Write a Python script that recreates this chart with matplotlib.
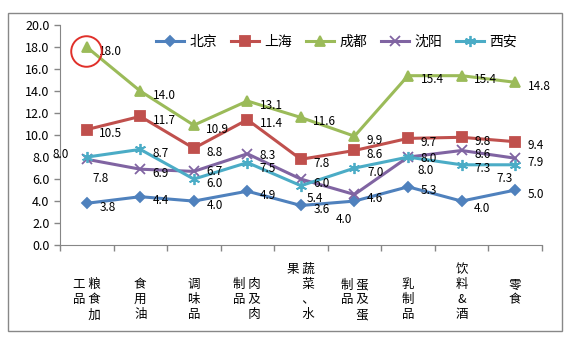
import matplotlib
matplotlib.use("Agg")
import matplotlib.pyplot as plt
from matplotlib.patches import Rectangle
from matplotlib.transforms import offset_copy

plt.rcParams['font.family'] = ['Noto Sans CJK SC', 'DejaVu Sans']

# 数据
categories = ["粮食加工品", "食用油", "调味品", "肉及肉制品", "蔬菜、水果",
              "蛋及蛋制品", "乳制品", "饮料&酒", "零食"]
rows_per_col = [3, 3, 3, 3, 4, 3, 3, 4, 3]

beijing = [3.8, 4.4, 4.0, 4.9, 3.6, 4.0, 5.3, 4.0, 5.0]
shanghai = [10.5, 11.7, 8.8, 11.4, 7.8, 8.6, 9.7, 9.8, 9.4]
chengdu = [18.0, 14.0, 10.9, 13.1, 11.6, 9.9, 15.4, 15.4, 14.8]
shenyang = [7.8, 6.9, 6.7, 8.3, 6.0, 4.6, 8.0, 8.6, 7.9]
xian = [8.0, 8.7, 6.0, 7.5, 5.4, 7.0, 8.0, 7.3, 7.3]

series = [
    ("北京", beijing, "#4F81BD", "D", 5.5),
    ("上海", shanghai, "#C0504D", "s", 7),
    ("成都", chengdu, "#9BBB59", "^", 7.5),
    ("沈阳", shenyang, "#8064A2", "x", 7),
    ("西安", xian, "#4BACC6", (6, 2, 0), 8),
]

# 数据标签偏移 (points)，默认在点右侧
default_off = (9, -3)
label_off = {
    ("西安", 0): (-13, 2),
    ("沈阳", 0): (4, -14),
    ("沈阳", 2): (9, 0),
    ("沈阳", 3): (9, -1),
    ("西安", 3): (9, -4),
    ("西安", 4): (4, -9),
    ("北京", 5): (-2, -13),
    ("沈阳", 6): (9, -1),
    ("西安", 6): (7, -10),
    ("北京", 7): (9, -5),
    ("西安", 8): (-2, -10),
}


def stack(label, n):
    cols = [label[i:i + n] for i in range(0, len(label), n)]
    lines = []
    for r in range(n):
        if len(cols) == 1:
            lines.append(cols[0][r] if r < len(cols[0]) else "")
        else:
            left = cols[1][r] if r < len(cols[1]) else "\u3000"
            lines.append(left + " " + cols[0][r])
    return "\n".join(l for l in lines if l)


fig = plt.figure(figsize=(5.71, 3.39), dpi=100)
ax = fig.add_axes([0.105, 0.277, 0.844, 0.649])

x = list(range(len(categories)))
for name, vals, color, marker, ms in series:
    ax.plot(x, vals, color=color, lw=2.2, marker=marker, ms=ms,
            mfc=color, mec=color, mew=1.3, label=name, zorder=3)
    for i, v in enumerate(vals):
        dx, dy = label_off.get((name, i), default_off)
        ax.annotate(f"{v:.1f}", (i, v), xytext=(dx, dy), textcoords="offset points",
                    ha="left" if dx >= 0 else "right", va="center", fontsize=8.5,
                    zorder=4)

# 红圈
trans = offset_copy(ax.transData, fig=fig, x=-0.5, y=-2.5, units="points")
ax.plot([0], [chengdu[0]], marker="o", ms=22, mfc="none", mec="#E0302A",
        mew=1.4, transform=trans, zorder=5, clip_on=False)

ax.set_xlim(-0.5, len(categories) - 0.5)
ax.set_ylim(0, 20)
ax.set_yticks(range(0, 21, 2))
ax.set_yticklabels([f"{t:.1f}" for t in range(0, 21, 2)], fontsize=9)
ax.set_xticks([i - 0.5 for i in range(len(categories) + 1)])
ax.set_xticklabels([])
ax.tick_params(axis="both", direction="out", length=4, color="#868686", width=1)
for s in ["top", "right"]:
    ax.spines[s].set_visible(False)
for s in ["left", "bottom"]:
    ax.spines[s].set_color("#868686")

for i, (lab, n) in enumerate(zip(categories, rows_per_col)):
    shift = (max(n, 3) - 3) * 11
    ax.annotate(stack(lab, n), (i, 0), xycoords=("data", "axes fraction"),
                xytext=(0, -24 + shift), textcoords="offset points",
                ha="center", va="top", fontsize=9, linespacing=1.2)

fig.legend(loc="center", bbox_to_anchor=(0.59, 0.876), ncol=5, frameon=False,
           fontsize=10, handlelength=2.0, columnspacing=1.0, handletextpad=0.4)

fig.patches.append(Rectangle((8 / 571, 1 - 331 / 339), 554 / 571, 318 / 339,
                             transform=fig.transFigure, fill=False,
                             edgecolor="#888888", lw=1))

fig.savefig("out.png", dpi=100)
